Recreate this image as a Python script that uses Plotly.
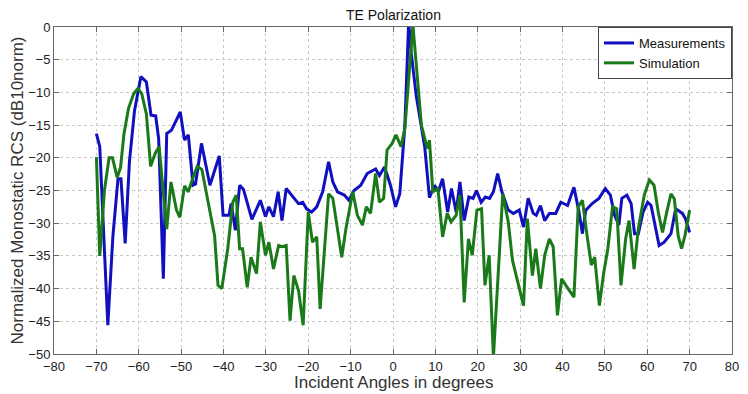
import plotly.graph_objects as go

# Measurements (blue)
meas_x = [-70.0, -69.2, -67.3, -66.1, -64.9, -64.2, -63.2, -62.2, -61.0, -59.5, -58.2, -57.1, -56.0, -55.3,
          -54.2, -53.4, -52.3, -51.5, -50.2, -49.2, -48.3, -47.2, -46.6, -45.2, -43.2, -41.0, -40.1, -38.7,
          -38.2, -37.2, -36.2, -35.3, -33.3, -31.3, -30.1, -29.3, -28.2, -27.1, -26.2, -25.2, -23.9, -22.3,
          -21.3, -20.4, -19.2, -18.0, -16.6, -15.2, -14.2, -13.1, -11.5, -10.4, -9.2, -7.6, -6.1, -4.1,
          -3.2, -2.0, -0.6, 0.6, 1.6, 2.8, 3.7, 4.3, 5.5, 6.7, 7.5, 8.6, 9.8, 10.7, 11.7, 12.9, 13.8, 14.9,
          15.8, 16.8, 17.9, 18.9, 19.7, 20.8, 21.8, 22.8, 23.7, 24.7, 25.7, 27.2, 28.4, 29.8, 30.8, 31.9,
          33.1, 33.8, 34.8, 35.8, 36.9, 38.4, 39.6, 41.2, 42.7, 43.9, 44.7, 45.5, 47.0, 48.6, 50.1, 51.3,
          52.3, 53.3, 54.0, 55.2, 56.2, 57.0, 57.9, 59.0, 60.1, 60.9, 62.8, 64.0, 65.6, 66.7, 68.3, 69.0, 70.0]
meas_y = [-16.3, -18.3, -45.6, -32.0, -23.2, -23.2, -33.1, -20.6, -12.8, -7.6, -8.4, -13.5, -13.6, -17.1,
          -38.5, -16.3, -15.8, -14.8, -13.0, -17.3, -16.5, -24.2, -24.0, -17.8, -24.2, -19.7, -28.8, -28.8,
          -27.0, -31.1, -24.2, -24.8, -29.4, -26.5, -29.0, -27.5, -29.0, -25.2, -29.6, -24.7, -25.7, -27.0,
          -26.8, -27.8, -28.3, -27.5, -25.2, -20.6, -23.7, -25.2, -25.7, -26.5, -25.0, -24.2, -22.4, -21.7,
          -22.7, -21.4, -24.2, -27.5, -25.5, -15.0, 0.8, -4.0, -10.6, -15.0, -18.4, -26.1, -24.2, -25.2,
          -23.2, -28.3, -24.7, -28.3, -23.7, -29.6, -26.0, -26.2, -25.0, -26.8, -26.0, -26.2, -25.2, -22.4,
          -25.2, -28.0, -28.5, -28.0, -30.6, -26.2, -28.5, -28.8, -27.3, -29.6, -28.5, -28.5, -26.8, -27.3,
          -24.5, -28.3, -31.6, -28.0, -27.0, -26.2, -24.7, -25.7, -28.8, -30.3, -26.2, -25.7, -27.0, -31.6,
          -31.6, -28.3, -26.8, -27.3, -33.4, -32.9, -31.6, -27.8, -28.5, -29.3, -31.4]

# Simulation (green)
sim_x = [-70.0, -69.2, -68.1, -67.0, -66.2, -65.1, -64.3, -63.5, -62.4, -61.2, -60.2, -59.3, -58.2, -57.2,
         -56.1, -55.2, -53.4, -52.4, -51.1, -50.3, -49.2, -48.3, -47.3, -46.2, -45.1, -43.6, -42.1, -41.3,
         -40.4, -39.0, -37.8, -37.0, -36.2, -35.5, -34.4, -33.5, -32.2, -31.3, -30.1, -29.3, -28.2, -27.0,
         -26.2, -25.2, -24.3, -23.4, -22.3, -21.2, -20.0, -19.0, -18.0, -17.2, -15.2, -14.2, -12.1, -11.1,
         -9.5, -8.4, -7.2, -6.3, -5.3, -4.1, -3.2, -2.2, -1.4, -0.2, 0.7, 1.9, 2.8, 4.7, 6.7, 8.1, 8.6,
         9.4, 10.6, 11.7, 12.8, 13.7, 14.9, 15.8, 16.8, 17.8, 18.7, 19.8, 20.9, 21.7, 22.7, 23.7, 25.9,
         27.2, 28.2, 30.8, 31.7, 32.9, 33.7, 34.8, 35.8, 36.9, 37.8, 38.8, 39.8, 40.8, 42.7, 43.7, 44.7,
         45.8, 46.8, 47.6, 48.7, 49.7, 50.7, 51.8, 52.8, 53.8, 54.9, 55.7, 56.9, 57.9, 59.3, 60.5, 61.6,
         62.6, 63.6, 64.6, 65.6, 66.4, 67.3, 68.1, 68.9, 70.0]
sim_y = [-19.9, -35.0, -25.0, -20.0, -20.0, -23.0, -21.5, -16.4, -12.4, -10.2, -9.4, -10.2, -13.3, -21.3,
         -19.3, -18.3, -30.9, -23.7, -28.0, -29.1, -24.3, -25.2, -23.2, -21.3, -21.8, -26.8, -31.9, -39.5,
         -40.0, -33.9, -26.8, -25.7, -33.9, -33.9, -39.8, -35.2, -37.7, -29.8, -34.9, -32.9, -37.0, -33.4,
         -33.6, -33.4, -44.9, -38.0, -40.3, -45.6, -28.3, -32.9, -32.1, -43.1, -25.5, -26.2, -35.2, -30.8,
         -25.2, -28.8, -30.3, -27.5, -28.5, -22.4, -26.8, -26.2, -18.8, -17.8, -16.5, -18.3, -15.5, 0.3,
         -15.0, -18.6, -17.3, -25.2, -24.7, -32.1, -28.5, -29.8, -28.8, -25.7, -42.1, -32.4, -34.9, -28.0,
         -27.8, -39.5, -34.9, -50.5, -25.5, -29.8, -35.7, -42.6, -29.3, -38.0, -33.9, -40.0, -34.9, -32.4,
         -33.6, -44.1, -38.5, -39.5, -41.3, -27.5, -26.5, -31.9, -36.4, -35.2, -42.6, -37.7, -33.9, -27.5,
         -27.8, -39.5, -32.4, -29.6, -37.0, -30.8, -25.7, -23.4, -24.2, -28.3, -31.4, -28.3, -25.5, -26.3,
         -31.9, -33.9, -31.9, -28.0]

x_ticks = list(range(-80, 81, 10))
y_ticks = list(range(-50, 1, 5))

FONT = "Liberation Sans, Arial, sans-serif"

fig = go.Figure()
fig.add_trace(go.Scatter(x=meas_x, y=meas_y, mode="lines", name="Measurements",
                         line=dict(color="#1010c0", width=3)))
fig.add_trace(go.Scatter(x=sim_x, y=sim_y, mode="lines", name="Simulation",
                         line=dict(color="#1a7a1a", width=3)))

axis_common = dict(showline=True, linecolor="#666", linewidth=1, mirror="ticks",
                   ticks="inside", ticklen=5, tickcolor="#666",
                   showgrid=True, gridcolor="#c8c8c8", griddash="dot", gridwidth=1,
                   zeroline=False, tickfont=dict(family=FONT, size=13, color="#222"))

fig.update_xaxes(range=[-80, 80], tickvals=x_ticks, **axis_common)
fig.update_yaxes(range=[-50, 0], tickvals=y_ticks, **axis_common)

fig.update_layout(
    width=748, height=394,
    margin=dict(l=54, r=9, t=27, b=40),
    paper_bgcolor="white", plot_bgcolor="white",
    font=dict(family=FONT, color="#222"),
    showlegend=True,
    legend=dict(x=1, y=1, xanchor="right", yanchor="top", bgcolor="white",
                bordercolor="#444", borderwidth=1, font=dict(family=FONT, size=13, color="#111"),
                tracegroupgap=0, itemwidth=30),
    annotations=[
        dict(text="TE Polarization", xref="paper", yref="paper", x=0.5, y=1, yanchor="bottom",
             yshift=2, showarrow=False, font=dict(family=FONT, size=14, color="#111")),
        dict(text="Incident Angles in degrees", xref="paper", yref="paper", x=0.5, y=0,
             yanchor="middle", yshift=-28, showarrow=False,
             font=dict(family=FONT, size=17, color="#333")),
        dict(text="Normalized Monostatic RCS (dB10norm)", xref="paper", yref="paper", x=0,
             y=0.5, xanchor="center", xshift=-37, textangle=-90, showarrow=False,
             font=dict(family=FONT, size=17, color="#333")),
    ],
)

fig.write_html("out.html", config={"displayModeBar": False},
               post_script="document.body.style.margin='0';")
